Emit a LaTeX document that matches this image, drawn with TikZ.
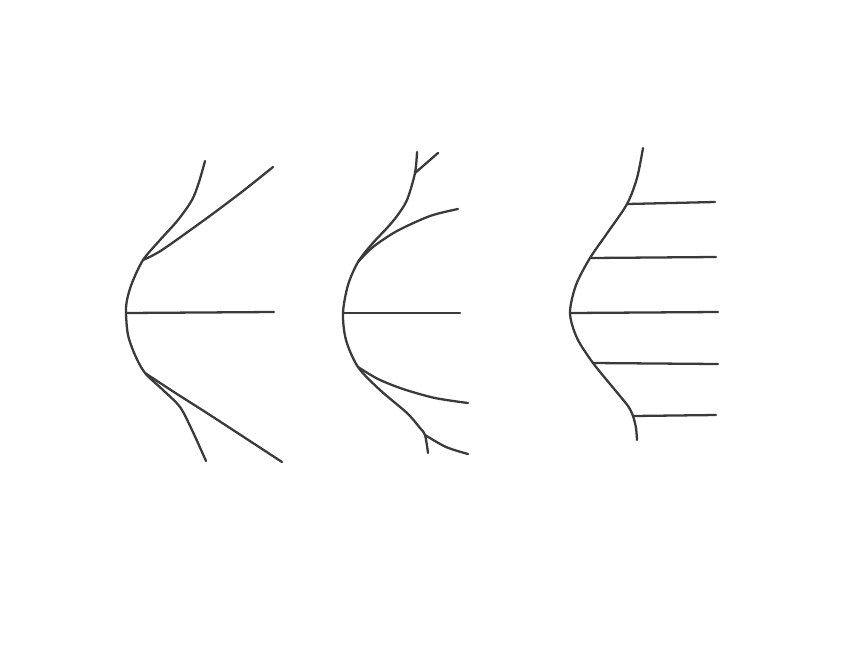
\documentclass[tikz,border=0pt]{standalone}
\usepackage{tikz}
\definecolor{pencil}{RGB}{58, 58, 58}

\begin{document}
\begin{tikzpicture}[
    x=0.02cm, y=-0.02cm,
    stroke/.style={draw=pencil, line width=1.3pt, line cap=round, line join=round}
]
    % page
    \fill[white] (0,0) rectangle (844,656);
    \useasboundingbox (0,0) rectangle (844,656);

    % left sketch
    \coordinate (a1) at (126,313);
    \coordinate (a2) at (143,260);
    \coordinate (a3) at (145,373);
    \draw[stroke] plot[smooth, tension=0.5] coordinates
        {(205,161) (199,182) (192,200) (178,220) (160,240) (a2) (132,283)
         (127,300) (a1) (128,335) (135,355) (a3) (163,390) (180,407)
         (192,430) (206,461)};
    \draw[stroke] plot[smooth, tension=0.5] coordinates
        {(a2) (162,250) (207,218) (243,191) (273,167)};
    \draw[stroke] (a1) -- (274,312);
    \draw[stroke] plot[smooth, tension=0.5] coordinates
        {(a3) (177,394) (210,415) (282,462)};

    % middle sketch
    \coordinate (b1) at (343,313);
    \coordinate (b2) at (358,262);
    \coordinate (b3) at (358,367);
    \coordinate (b4) at (415,173);
    \coordinate (b5) at (425,435);
    \draw[stroke] plot[smooth, tension=0.5] coordinates
        {(417,152) (b4) (407,200) (397,216) (387,228) (372,244) (b2)
         (348,285) (b1) (346,340) (b3) (380,390) (407,413) (420,428)
         (b5) (428,453)};
    \draw[stroke] (b4) -- (438,153);
    \draw[stroke] plot[smooth, tension=0.5] coordinates
        {(b2) (373,247) (397,231) (430,216) (458,209)};
    \draw[stroke] (b1) -- (460,313);
    \draw[stroke] plot[smooth, tension=0.5] coordinates
        {(b3) (378,379) (403,389) (435,398) (468,403)};
    \draw[stroke] plot[smooth, tension=0.5] coordinates
        {(b5) (446,447) (468,454)};

    % right sketch
    \coordinate (c1) at (627,204);
    \coordinate (c2) at (590,258);
    \coordinate (c3) at (570,313);
    \coordinate (c4) at (593,363);
    \coordinate (c5) at (633,416);
    \draw[stroke] plot[smooth, tension=0.5] coordinates
        {(643,148) (637,178) (c1) (608,232) (c2) (576,285) (c3) (577,338)
         (c4) (615,390) (628,406) (c5) (636,428) (637,440)};
    \draw[stroke] (c1) -- (715,202);
    \draw[stroke] (c2) -- (716,257);
    \draw[stroke] (c3) -- (718,312);
    \draw[stroke] (c4) -- (718,364);
    \draw[stroke] (c5) -- (716,415);
\end{tikzpicture}
\end{document}
